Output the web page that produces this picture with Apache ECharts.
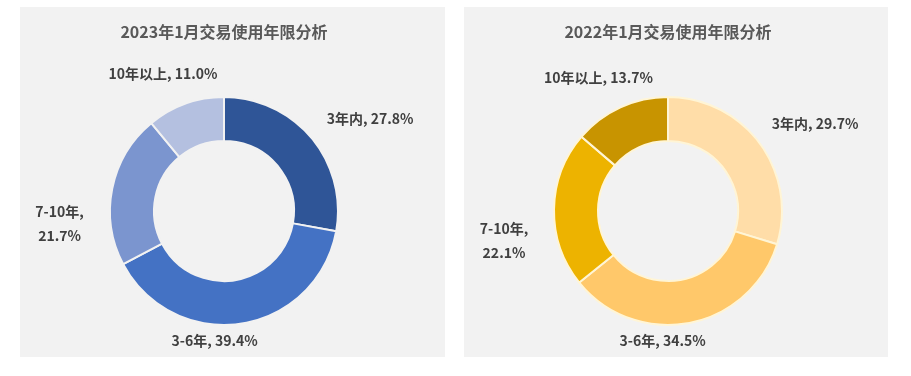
<!DOCTYPE html>
<html><head><meta charset="utf-8">
<script src="https://cdn.jsdelivr.net/npm/echarts@6/dist/echarts.min.js"></script>
<style>html,body{margin:0;padding:0;background:#fff}#c{width:911px;height:376px}</style>
</head><body><div id="c"></div>
<script>
const categories = ['3年内', '3-6年', '7-10年', '10年以上'];
const values2023 = [27.8, 39.4, 21.7, 11.0];
const values2022 = [29.7, 34.5, 22.1, 13.7];
const titles = ['2023年1月交易使用年限分析', '2022年1月交易使用年限分析'];

const colors2023 = ['#2F5597', '#4472C4', '#7B95CF', '#B4C0E0'];
const colors2022 = ['#FFDDA8', '#FFC86A', '#EDB300', '#C89400'];
const font = '"Noto Sans CJK SC", "Microsoft YaHei", sans-serif';

// per-label nudges (styling)
const nudge2023 = [[-5,-6],[-78,-3],[-28,39],[44,-11]];
const nudge2022 = [[-9,-8],[-79,-2],[-25,32],[46,-12]];

const chart = echarts.init(document.getElementById('c'));
function mkSeries(vals, cols, cx, borderColor, nudge, breakIdx) {
  return {
    type: 'pie', center: [cx, 211], radius: [70, 114], startAngle: 90, clockwise: true,
    avoidLabelOverlap: false, silent: true,
    itemStyle: { borderColor: borderColor, borderWidth: 2 },
    label: {
      show: true, position: 'outside', color: '#404040', fontSize: 14, fontWeight: 'bold',
      fontFamily: font, lineHeight: 24,
      formatter: p => p.dataIndex === breakIdx ? p.name + ',\n' + p.value.toFixed(1) + '%' : p.name + ', ' + p.value.toFixed(1) + '%'
    },
    labelLine: { show: false, length: 20, length2: 0 },
    labelLayout: p => {
      const o = { dx: nudge[p.dataIndex][0], dy: nudge[p.dataIndex][1] };
      if (p.dataIndex === breakIdx) o.align = 'center';
      return o;
    },
    data: categories.map((c, i) => ({ name: c, value: vals[i], itemStyle: { color: cols[i] } }))
  };
}
chart.setOption({
  backgroundColor: '#ffffff',
  animation: false,
  graphic: [
    { type: 'rect', shape: { x: 20, y: 7, width: 425, height: 350 }, style: { fill: '#F2F2F2' }, z: -10 },
    { type: 'rect', shape: { x: 464, y: 7, width: 424, height: 350 }, style: { fill: '#F2F2F2' }, z: -10 }
  ],
  title: [
    { text: titles[0], left: 219, top: 19, textAlign: 'center', textStyle: { fontSize: 16, fontWeight: 'bold', color: '#595959', fontFamily: font } },
    { text: titles[1], left: 663, top: 19, textAlign: 'center', textStyle: { fontSize: 16, fontWeight: 'bold', color: '#595959', fontFamily: font } }
  ],
  series: [
    mkSeries(values2023, colors2023, 224, '#F2F2F2', nudge2023, 2),
    mkSeries(values2022, colors2022, 668, '#FFF5D6', nudge2022, 2)
  ]
});
</script></body></html>
